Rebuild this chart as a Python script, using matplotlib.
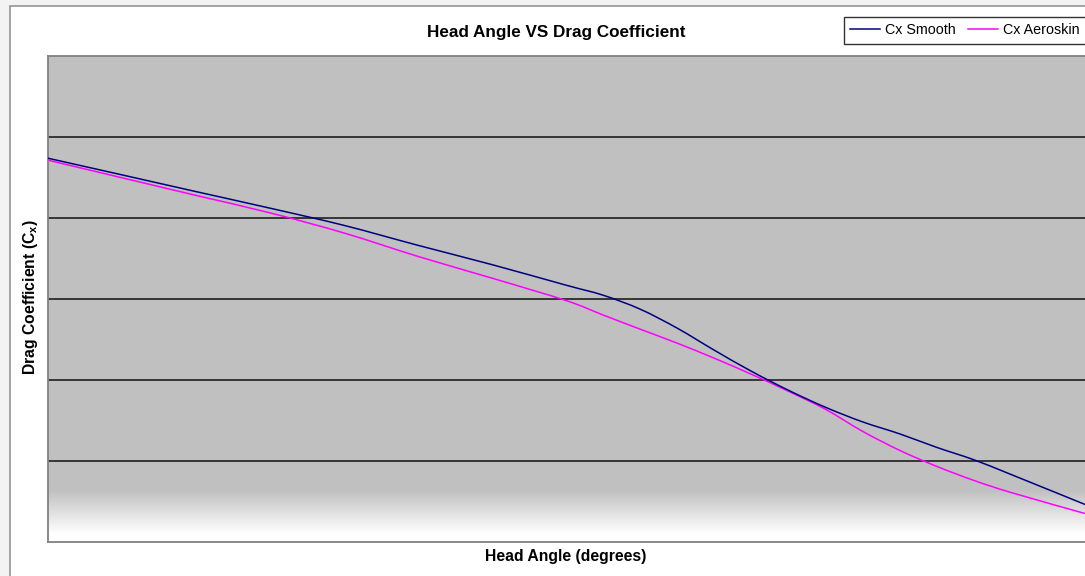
import matplotlib
matplotlib.use("Agg")
import matplotlib.pyplot as plt
import numpy as np
from matplotlib.patches import Rectangle, PathPatch
from matplotlib.path import Path
from matplotlib.lines import Line2D

plt.rcParams['font.family'] = ['Liberation Sans', 'DejaVu Sans']
plt.rcParams['mathtext.fontset'] = 'custom'
plt.rcParams['mathtext.rm'] = 'Liberation Sans'

# data (x in degrees, no tick labels in source)
head_angle = [0, 5, 10, 15, 20, 25, 30, 35, 37.5, 40, 42.5, 45, 47.5, 50,
              52.5, 55, 57.5, 60, 62.5, 65, 70]
cx_smooth = [4.738, 4.532, 4.325, 4.120, 3.907, 3.660, 3.421, 3.167, 3.043,
             2.870, 2.635, 2.363, 2.103, 1.868, 1.658, 1.478, 1.330, 1.163,
             1.010, 0.829, 0.458]
cx_aeroskin = [4.714, 4.496, 4.278, 4.062, 3.813, 3.523, 3.254, 2.977, 2.798,
               2.623, 2.450, 2.264, 2.066, 1.856, 1.633, 1.361, 1.126, 0.928,
               0.755, 0.606, 0.346]

W, H = 1085, 576


def smooth_path(xs, ys):
    # Excel-style smoothed line: cubic Bezier between the points
    pts = np.column_stack([xs, ys]).astype(float)
    verts = [pts[0]]
    codes = [Path.MOVETO]
    n = len(pts)
    for i in range(n - 1):
        p0 = pts[i - 1] if i > 0 else pts[i]
        p1, p2 = pts[i], pts[i + 1]
        p3 = pts[i + 2] if i + 2 < n else pts[i + 1]
        c1 = p1 + (p2 - p0) / 6.0
        c2 = p2 - (p3 - p1) / 6.0
        verts += [c1, c2, p2]
        codes += [Path.CURVE4] * 3
    return Path(verts, codes)


fig = plt.figure(figsize=(W / 100, H / 100), dpi=100)
fig.patch.set_facecolor('#f3f3f3')

# outer chart frame
frame = Rectangle((9.5 / W, -0.1), 1.2, (H - 5.5) / H + 0.1, transform=fig.transFigure,
                  facecolor='white', edgecolor='#8c8c8c', linewidth=1.1, zorder=-5)
fig.patches.append(frame)

ax = fig.add_axes([47.5 / W, (H - 541.5) / H, 1.0 - 47.5 / W + 0.01, (541.5 - 56) / H])
ax.set_zorder(1)
ax.set_xlim(0, 70 * (1085 - 47.5 + 0.01 * W) / (1085 - 47.5))
ax.set_ylim(0, 6)

# gray background fading to white at the bottom
yy = np.linspace(0, 1, 300)
grad = np.clip((yy * 6 - 0.08) / (0.62 - 0.08), 0, 1)
shade = 1.0 - grad * (1.0 - 0.753)
cols = np.repeat(shade[:, None, None], 3, axis=2)
ax.imshow(cols, extent=[0, 1, 0, 1], transform=ax.transAxes, origin='lower',
          aspect='auto', zorder=0, interpolation='bilinear')

for gy in [1, 2, 3, 4, 5]:
    ax.axhline(gy, color='#111111', linewidth=1.1, zorder=1)

ax.add_patch(PathPatch(smooth_path(head_angle, cx_aeroskin), facecolor='none',
                       edgecolor='#ff00ff', linewidth=1.1, zorder=2))
ax.add_patch(PathPatch(smooth_path(head_angle, cx_smooth), facecolor='none',
                       edgecolor='#000080', linewidth=1.1, zorder=3))

ax.set_xticks([])
ax.set_yticks([])
for side in ['left', 'bottom', 'top']:
    ax.spines[side].set_color('#808080')
    ax.spines[side].set_linewidth(1.3)
ax.spines['right'].set_visible(False)

fig.text(556 / W, 1 - 33 / H, 'Head Angle VS Drag Coefficient', fontsize=12.3,
         fontweight='bold', ha='center', va='center')
fig.text(566 / W, 1 - 557 / H, 'Head Angle (degrees)', fontsize=11.3,
         fontweight='bold', ha='center', va='center')
fig.text(30 / W, 1 - 297 / H, r'Drag Coefficient (C$_{\mathregular{x}}$)', fontsize=11.3,
         fontweight='bold', ha='center', va='center', rotation=90)

handles = [Line2D([], [], color='#000080', linewidth=1.1),
           Line2D([], [], color='#ff00ff', linewidth=1.1)]
leg = fig.legend(handles, ['Cx Smooth', 'Cx Aeroskin'], loc='upper left',
                 bbox_to_anchor=(844 / W, 1 - 17 / H), ncol=2,
                 fontsize=10.3, frameon=True, fancybox=False, borderaxespad=0,
                 handlelength=2.1, handletextpad=0.35, columnspacing=0.8,
                 borderpad=0.45)
leg.get_frame().set_edgecolor('black')
leg.get_frame().set_linewidth(1.0)
leg.set_zorder(5)

fig.savefig('out.png', dpi=100, facecolor=fig.get_facecolor())
